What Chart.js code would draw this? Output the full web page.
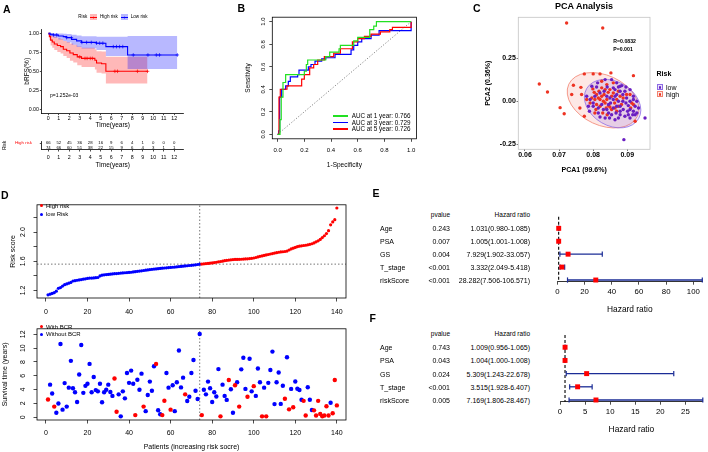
<!DOCTYPE html>
<html>
<head>
<meta charset="utf-8">
<script src="https://cdn.jsdelivr.net/npm/chart.js@4.4.1/dist/chart.umd.min.js"></script>
<style>
html,body{margin:0;padding:0;}
body{width:708px;height:452px;position:relative;overflow:hidden;background:#fff;font-family:"Liberation Sans",Arial,Helvetica,sans-serif;color:#000;}
canvas{position:absolute;}
.t{position:absolute;white-space:nowrap;line-height:1;}
.k{position:absolute;box-sizing:border-box;}
</style>
</head>
<body>
<script>
// ================= DATA =================
// Panel A: Kaplan-Meier curves (years, survival proportion)
const highTime  = [0, 0.1, 0.22, 0.38, 0.57, 0.86, 1.17, 1.43, 1.75, 2.06, 2.38, 2.76, 3.17, 4.44, 4.6, 5.08, 5.49, 9.46];
const highSurv  = [1, 0.956, 0.91, 0.885, 0.86, 0.84, 0.825, 0.79, 0.77, 0.74, 0.72, 0.69, 0.67, 0.645, 0.61, 0.60, 0.50, 0.50];
const highUpper = [1, 1, 0.98, 0.965, 0.95, 0.935, 0.925, 0.90, 0.885, 0.865, 0.85, 0.825, 0.81, 0.79, 0.765, 0.76, 0.69, 0.69];
const highLower = [1, 0.91, 0.84, 0.81, 0.78, 0.755, 0.735, 0.70, 0.675, 0.64, 0.615, 0.58, 0.555, 0.525, 0.48, 0.47, 0.34, 0.34];
const highCensor = [3.0, 3.5, 3.7, 4.0, 4.2, 6.35, 6.6, 8.5, 9.46];
const lowTime  = [0, 0.16, 0.48, 0.95, 1.43, 1.75, 2.22, 2.7, 3.17, 4.6, 5.49, 7.56, 12.3];
const lowSurv  = [1, 0.987, 0.978, 0.965, 0.956, 0.943, 0.92, 0.90, 0.88, 0.87, 0.825, 0.715, 0.715];
const lowUpper = [1, 1, 1, 0.998, 0.995, 0.99, 0.98, 0.97, 0.96, 0.955, 0.955, 0.965, 0.965];
const lowLower = [1, 0.96, 0.94, 0.92, 0.90, 0.88, 0.85, 0.82, 0.80, 0.78, 0.70, 0.53, 0.53];
const lowCensor = [0.16, 0.48, 0.8, 1.75, 2.2, 3.2, 3.65, 4.1, 4.6, 4.9, 5.2, 6.2, 6.5, 6.8, 7.1, 8.1, 9.5, 10.3, 10.6, 12.3];
const kmYTicks = [0, 0.25, 0.5, 0.75, 1];
const riskTimes = [0,1,2,3,4,5,6,7,8,9,10,11,12];
const riskGroups = ['High risk', 'Low risk'];
const atRiskHigh = [66,52,45,36,28,16,9,6,4,1,0,0,0];
const atRiskLow  = [74,66,60,51,38,22,15,9,6,4,3,1,1];

// Panel B: ROC curves (1-specificity, sensitivity)
const roc1Fpr = [0,0.018,0.027,0.04,0.06,0.2,0.215,0.225,0.33,0.36,0.39,0.46,0.47,0.55,0.57,0.6,0.66,0.69,0.72,0.74,1.0];
const roc1Tpr = [0,0.13,0.33,0.46,0.53,0.56,0.62,0.66,0.66,0.69,0.73,0.76,0.79,0.79,0.83,0.86,0.86,0.93,0.96,1.0,1.0];
const roc3Fpr = [0,0.008,0.015,0.03,0.06,0.08,0.095,0.15,0.16,0.22,0.23,0.25,0.28,0.33,0.36,0.43,0.53,0.55,0.57,0.6,0.63,0.7,0.76,0.995,1.0];
const roc3Tpr = [0,0.03,0.33,0.40,0.43,0.47,0.51,0.53,0.57,0.57,0.60,0.62,0.65,0.67,0.68,0.71,0.71,0.75,0.79,0.82,0.85,0.88,0.92,0.92,1.0];
const roc5Fpr = [0,0.01,0.02,0.07,0.18,0.2,0.24,0.27,0.3,0.35,0.42,0.47,0.56,0.6,0.65,0.7,0.77,0.84,0.86,1.0,1.0];
const roc5Tpr = [0,0.33,0.40,0.43,0.49,0.53,0.59,0.62,0.66,0.69,0.72,0.76,0.82,0.85,0.87,0.89,0.91,0.93,0.95,0.95,1.0];
const rocLabels = ['AUC at 1 year: 0.766', 'AUC at 3 year: 0.729', 'AUC at 5 year: 0.726'];
const rocTicks = [0, 0.2, 0.4, 0.6, 0.8, 1.0];

// Panel C: PCA (PCA1, PCA2)
const pcaLow = [[0.0796,0.087],[0.081,0.083],[0.0841,0.083],[0.0859,0.078],[0.0874,0.083],[0.0884,0.091],[0.0893,0.058],[0.0879,0.058],[0.0864,0.029],[0.0887,0.0],[0.0896,-0.010],[0.0903,-0.025],[0.0908,-0.048],[0.0918,-0.058],[0.0928,-0.068],[0.0903,-0.078],[0.0893,-0.087],[0.0879,-0.078],[0.0867,-0.068],[0.0854,-0.078],[0.0845,-0.068],[0.0835,-0.097],[0.082,-0.091],[0.083,-0.048],[0.0815,-0.039],[0.08,-0.029],[0.0791,0.010],[0.0786,-0.029],[0.0781,0.029],[0.0805,0.029],[0.082,0.048],[0.0849,0.019],[0.0869,0.039],[0.0859,0.010],[0.084,0.029],[0.0879,-0.029],[0.0888,-0.048],[0.0918,0.010],[0.0928,0.0],[0.0918,0.029],[0.0908,0.068],[0.0896,0.083],[0.0869,0.107],[0.0854,0.126],[0.0835,0.126],[0.0813,0.107],[0.0952,-0.097],[0.089,-0.223],[0.0923,-0.078],[0.0908,-0.097],[0.0874,-0.097],[0.0859,-0.039],[0.0845,-0.019],[0.0825,-0.019],[0.0874,0.0],[0.0908,0.0],[0.0923,-0.029],[0.0898,0.019],[0.0879,0.087],[0.0789,-0.058],[0.0815,-0.068],[0.0864,-0.107],[0.0848,-0.097],[0.0832,0.058],[0.0916,-0.078],[0.0901,-0.058],[0.0887,0.039],[0.0851,-0.010],[0.0869,-0.029],[0.08,-0.010],[0.0933,-0.039],[0.0879,-0.058],[0.0864,0.068],[0.084,-0.048]];
const pcaHigh = [[0.0722,0.455],[0.0828,0.426],[0.0642,0.10],[0.0666,0.054],[0.0703,-0.037],[0.0715,-0.072],[0.0742,0.093],[0.0737,0.039],[0.0764,0.081],[0.0766,0.039],[0.0761,-0.039],[0.0774,-0.087],[0.0774,0.159],[0.080,0.159],[0.082,0.159],[0.0852,0.165],[0.0918,0.149],[0.0923,-0.116],[0.0799,0.072],[0.0803,0.052],[0.081,0.039],[0.0815,0.019],[0.082,0.010],[0.0825,0.029],[0.083,0.0],[0.0835,-0.010],[0.084,0.010],[0.0845,-0.025],[0.0849,-0.033],[0.0854,-0.048],[0.0864,-0.039],[0.0869,-0.058],[0.0874,-0.029],[0.082,-0.029],[0.081,-0.019],[0.0805,0.010],[0.0796,0.019],[0.0825,0.078],[0.0835,0.068],[0.0844,0.052],[0.0859,0.048],[0.0879,0.029],[0.0888,0.019],[0.0898,0.039],[0.0908,0.039],[0.0913,-0.010],[0.0918,-0.019],[0.091,-0.039],[0.0859,0.107],[0.0825,0.116],[0.0805,-0.068],[0.0828,-0.068],[0.0841,-0.078],[0.0869,0.010],[0.0883,-0.019],[0.0849,0.068],[0.084,0.097],[0.0791,-0.010],[0.0817,0.058],[0.0832,0.039],[0.0863,-0.010],[0.0808,-0.048],[0.0874,0.058],[0.0781,0.010],[0.0854,0.029],[0.0838,-0.039]];
const pcaXTicks = [0.06, 0.07, 0.08, 0.09];
const pcaYTicks = [-0.25, 0, 0.25];
// confidence ellipses: centre, semi-axes (data units), rotation (deg)
const pcaEllipseHigh = {cx:0.0829, cy:0.006, rx:0.0111, ry:0.145, rot:25};
const pcaEllipseLow  = {cx:0.0857, cy:-0.0136, rx:0.0088, ry:0.128, rot:30};

// Panel D: risk score (sorted), survival time and BCR status per patient
const riskScore = [1.14,1.15,1.16,1.17,1.19,1.23,1.24,1.26,1.28,1.29,
 1.30,1.31,1.33,1.335,1.34,1.345,1.35,1.355,1.36,1.365,
 1.37,1.37,1.372,1.375,1.378,1.40,1.41,1.415,1.418,1.42,
 1.423,1.427,1.43,1.432,1.435,1.438,1.44,1.443,1.445,1.448,
 1.45,1.454,1.458,1.462,1.466,1.47,1.474,1.478,1.482,1.486,
 1.49,1.493,1.496,1.499,1.502,1.505,1.508,1.511,1.514,1.516,
 1.518,1.521,1.524,1.527,1.53,1.533,1.536,1.539,1.542,1.545,
 1.548,1.552,1.556,1.56,
 1.562,1.565,1.568,1.571,1.574,1.578,1.582,1.587,1.592,1.597,
 1.602,1.608,1.613,1.617,1.62,1.623,1.625,1.626,1.627,1.628,
 1.63,1.632,1.634,1.637,1.641,1.645,1.652,1.66,1.668,1.674,
 1.68,1.687,1.693,1.70,1.706,1.712,1.718,1.724,1.728,1.731,
 1.734,1.74,1.755,1.77,1.78,1.79,1.80,1.807,1.812,1.816,
 1.82,1.826,1.833,1.84,1.852,1.867,1.88,1.90,1.925,1.95,
 1.98,2.02,2.10,2.14,2.17,2.33];
const nLowRisk = 74;
const riskCutoff = 1.561;
const survTime = [2.56,4.72,3.44,1.54,0.66,1.99,10.6,1.1,4.94,1.54,
 4.28,8.16,4.19,3.62,2.2,6.18,10.45,3.53,4.54,4.85,
 7.72,3.62,5.82,3.93,3.75,4.85,2.16,3.62,3.97,4.72,
 3.66,3.09,5.6,0.79,3.31,0.13,3.75,2.73,6.4,4.98,
 6.75,4.85,0.31,5.43,3.97,6.31,1.54,0.88,3.22,5.16,
 3.84,7.37,7.72,1.01,0.44,0.31,2.38,6.4,4.28,1.1,
 4.63,0.88,5.07,9.66,4.32,5.73,3.31,2.34,2.96,6.4,
 8.29,3.84,2.65,12.04,0.31,3.97,3.31,5.16,4.19,2.2,
 3.62,3.0,6.97,0.13,4.72,3.09,2.51,5.38,4.06,0.66,
 4.63,5.07,1.54,6.93,8.6,4.1,2.96,8.47,3.75,4.5,
 3.09,7.06,5.07,0.13,4.28,0.13,4.98,6.84,9.5,1.9,
 5.07,6.48,1.93,4.56,2.68,8.68,1.14,4.1,1.45,5.18,
 4.12,3.95,2.54,2.37,0.26,4.34,2.54,1.05,1.0,0.26,
 2.37,0.48,0.15,0.26,1.58,0.26,2.1,0.57,5.39,1.71];
const bcrStatus = [1,0,0,1,0,0,0,0,0,0,
 0,0,0,0,0,0,0,0,0,0,
 0,0,0,0,0,0,0,0,0,0,
 0,0,1,1,0,0,0,0,0,0,
 0,0,1,0,0,0,1,0,0,0,
 0,0,1,0,0,1,1,0,0,1,
 0,0,0,0,0,0,1,0,0,0,
 0,0,0,0,1,0,0,0,0,0,
 0,0,0,1,0,0,0,1,0,0,
 1,0,1,0,0,0,1,0,0,1,
 0,0,0,1,0,1,0,0,0,0,
 0,0,0,0,1,0,1,0,1,0,
 0,0,0,1,1,0,0,0,1,1,
 1,1,1,1,1,1,0,1,1,1];
const patientTicks = [0,20,40,60,80,100,120,140];
const scoreTicks = [1.2,1.4,1.6,1.8,2.0,2.2];
const scoreLabelled = [1.2,1.6,2.0];
const survTicks = [0,2,4,6,8,10,12];

// Panels E, F: Cox regression
const coxVars = ['Age','PSA','GS','T_stage','riskScore'];
const uniP    = ['0.243','0.007','0.004','<0.001','<0.001'];
const uniHR   = [1.031,1.005,7.929,3.332,28.282];
const uniLow  = [0.980,1.001,1.902,2.049,7.506];
const uniHigh = [1.085,1.008,33.057,5.418,106.571];
const multiP    = ['0.743','0.043','0.024','<0.001','0.005'];
const multiHR   = [1.009,1.004,5.309,3.515,7.169];
const multiLow  = [0.956,1.000,1.243,1.928,1.806];
const multiHigh = [1.065,1.008,22.678,6.407,28.467];
const uniTicks = [0,20,40,60,80,100];
const multiTicks = [0,5,10,15,20,25];

// ================= HELPERS =================
const FONT = '"Liberation Sans", Arial, Helvetica, sans-serif';
Chart.defaults.font.family = FONT;
Chart.defaults.color = '#000';
Chart.defaults.animation = false;
Chart.defaults.responsive = false;
Chart.defaults.maintainAspectRatio = false;
Chart.defaults.plugins.legend.display = false;
Chart.defaults.plugins.tooltip.enabled = false;
Chart.defaults.events = [];

function mkCanvas(left, top, w, h) {
  const c = document.createElement('canvas');
  c.width = w; c.height = h;
  c.style.left = left + 'px'; c.style.top = top + 'px';
  c.style.width = w + 'px'; c.style.height = h + 'px';
  document.body.appendChild(c);
  return c;
}
function T(text, x, y, o = {}) {
  const d = document.createElement('div');
  d.className = 't';
  d.textContent = text;
  d.style.left = x + 'px'; d.style.top = y + 'px';
  d.style.fontSize = (o.size || 7) + 'px';
  if (o.bold) d.style.fontWeight = 'bold';
  if (o.color) d.style.color = o.color;
  const ax = o.align === 'right' ? '-100%' : o.align === 'center' ? '-50%' : '0';
  d.style.transform = 'translate(' + ax + ',-50%)' + (o.rot ? ' rotate(' + o.rot + 'deg)' : '');
  document.body.appendChild(d);
  return d;
}
function K(x, y, w, h, style) {
  const d = document.createElement('div');
  d.className = 'k';
  d.style.left = x + 'px'; d.style.top = y + 'px';
  d.style.width = w + 'px'; d.style.height = h + 'px';
  Object.assign(d.style, style);
  document.body.appendChild(d);
  return d;
}
const pts = (xs, ys) => xs.map((x, i) => ({x, y: ys[i]}));
const pairs = arr => arr.map(p => ({x: p[0], y: p[1]}));
const survAt = (ts, ss, t) => { let s = ss[0]; ts.forEach((tt, i) => { if (tt <= t) s = ss[i]; }); return s; };

function axis(o) {
  const a = {
    type: 'linear', min: o.min, max: o.max, reverse: !!o.reverse,
    afterFit: s => { if (o.horizontal) s.height = o.size; else s.width = o.size; },
    grid: { display: true, drawOnChartArea: false, drawTicks: true, tickLength: o.tl, color: o.tickColor || '#000', lineWidth: o.tlw || 0.7 },
    border: { display: !!o.border, color: '#000', width: o.bw || 0.8 },
    ticks: { autoSkip: false, padding: o.pad, font: { size: o.fs, weight: o.bold ? 'bold' : 'normal' }, color: '#000' },
    title: { display: false }
  };
  if (o.ticks) a.afterBuildTicks = s => { s.ticks = o.ticks.map(v => ({value: v})); };
  if (o.fmt) a.ticks.callback = o.fmt;
  if (o.rot) { a.ticks.minRotation = o.rot; a.ticks.maxRotation = o.rot; a.ticks.crossAlign = 'center'; }
  else { a.ticks.maxRotation = 0; a.ticks.minRotation = 0; }
  if (o.title) a.title = { display: true, text: o.title, color: '#000', font: { size: o.tfs, weight: o.tbold ? 'bold' : 'normal' },
    padding: o.horizontal ? { top: 0, bottom: o.tpad } : { top: o.tpad, bottom: 0 } };
  return a;
}
const boxPlugin = {
  id: 'box',
  afterDatasetsDraw(chart, args, opts) {
    const a = chart.chartArea, ctx = chart.ctx;
    ctx.save(); ctx.strokeStyle = opts.color || '#000'; ctx.lineWidth = opts.width || 0.8;
    ctx.strokeRect(a.left, a.top, a.right - a.left, a.bottom - a.top); ctx.restore();
  }
};

// ================= PANEL A =================
const kmBand = (xs, ys, fill, bg) => ({data: pts(xs, ys), showLine: true, stepped: true, borderColor: 'transparent', borderWidth: 1, pointRadius: 0, fill: fill, backgroundColor: bg});
new Chart(mkCanvas(0, 0, 190, 130), {
  type: 'scatter',
  data: { datasets: [
    {data: pts(lowTime, lowSurv), showLine: true, stepped: true, borderColor: '#0000FF', borderWidth: 1.1, pointRadius: 0},
    {data: pts(highTime, highSurv), showLine: true, stepped: true, borderColor: '#FF0000', borderWidth: 1.1, pointRadius: 0},
    {data: lowCensor.map(t => ({x: t, y: survAt(lowTime, lowSurv, t)})), pointStyle: 'cross', pointRadius: 1.8, borderColor: '#0000FF', borderWidth: 0.7},
    {data: highCensor.map(t => ({x: t, y: survAt(highTime, highSurv, t)})), pointStyle: 'cross', pointRadius: 1.8, borderColor: '#FF0000', borderWidth: 0.7},
    kmBand(lowTime, lowUpper, '+1', 'rgba(0,0,255,0.28)'),
    kmBand(lowTime, lowLower, false, 'transparent'),
    kmBand(highTime, highUpper, '+1', 'rgba(255,0,0,0.28)'),
    kmBand(highTime, highLower, false, 'transparent')
  ]},
  options: {
    layout: { padding: { left: 0, top: 29.5, right: 6.2, bottom: 0 } },
    scales: {
      x: axis({horizontal: true, min: -0.62, max: 12.92, ticks: riskTimes, size: 16.9, tl: 2, pad: 0.7, fs: 5.3, fmt: v => String(v), title: 'Time(years)', tfs: 6.5, tpad: 1.1, border: true}),
      y: axis({min: -0.05, max: 1.05, ticks: kmYTicks, size: 41.8, tl: 2, pad: 0.8, fs: 5.3, fmt: v => v.toFixed(2), title: 'bRFS(%)', tfs: 6.5, tpad: 23.8, border: true})
    }
  }
});
// risk table
const tablePlugin = {
  id: 'rtab',
  afterDatasetsDraw(chart) {
    const {ctx, scales: {x, y}} = chart;
    ctx.save(); ctx.font = '4.3px ' + FONT; ctx.fillStyle = '#000'; ctx.textAlign = 'center'; ctx.textBaseline = 'middle';
    riskTimes.forEach((t, i) => {
      ctx.fillText(String(atRiskHigh[i]), x.getPixelForValue(t), y.getPixelForValue(0));
      ctx.fillText(String(atRiskLow[i]), x.getPixelForValue(t), y.getPixelForValue(1));
    });
    ctx.restore();
  }
};
new Chart(mkCanvas(0, 130, 190, 40), {
  type: 'scatter',
  data: { datasets: [] },
  options: {
    layout: { padding: { left: 0, top: 11, right: 6.2, bottom: 0 } },
    scales: {
      x: axis({horizontal: true, min: -0.62, max: 12.92, ticks: riskTimes, size: 20.5, tl: 2, pad: 2.5, fs: 5.3, fmt: v => String(v), title: 'Time(years)', tfs: 6.5, tpad: 1.1, border: true}),
      y: { type: 'category', labels: riskGroups, offset: true, afterFit: s => { s.width = 41.8; },
        grid: { display: true, drawOnChartArea: false, drawTicks: true, tickLength: 2, color: '#000', lineWidth: 0.7 },
        border: { display: true, color: '#000', width: 0.8 },
        ticks: { font: { size: 4.4 }, padding: 7.8, color: c => c.index === 0 ? '#FF0000' : '#0000FF' },
        title: { display: true, text: 'Risk', color: '#000', font: { size: 4.6 }, padding: { top: 2.3, bottom: 0 } } }
    }
  },
  plugins: [tablePlugin]
});
T('A', 3, 8.5, {size: 10.5, bold: true});
T('Risk', 78.3, 17.3, {size: 4.6});
K(90, 14.3, 7, 6, {background: 'rgba(255,0,0,0.28)'}); K(90, 17, 7, 0.9, {background: '#FF0000'});
T('+', 93.5, 17.2, {size: 5, color: '#FF0000', align: 'center'});
T('High risk', 100, 17.3, {size: 4.6});
K(120.7, 14.3, 7, 6, {background: 'rgba(0,0,255,0.28)'}); K(120.7, 17, 7, 0.9, {background: '#0000FF'});
T('+', 124.2, 17.2, {size: 5, color: '#0000FF', align: 'center'});
T('Low risk', 130.7, 17.3, {size: 4.6});
T('p=1.252e-03', 50, 95, {size: 5});

// ================= PANEL B =================
new Chart(mkCanvas(190, 0, 230, 175), {
  type: 'scatter',
  data: { datasets: [
    {data: pts(roc1Fpr, roc1Tpr), showLine: true, stepped: true, borderColor: '#22E022', borderWidth: 1.2, pointRadius: 0},
    {data: pts(roc5Fpr, roc5Tpr), showLine: true, stepped: true, borderColor: '#FF0000', borderWidth: 1.2, pointRadius: 0},
    {data: pts(roc3Fpr, roc3Tpr), showLine: true, stepped: true, borderColor: '#0000FF', borderWidth: 1.2, pointRadius: 0},
    {data: [{x: 0, y: 0}, {x: 1, y: 1}], showLine: true, borderColor: '#666', borderDash: [1.2, 1.8], borderWidth: 0.8, pointRadius: 0}
  ]},
  options: {
    layout: { padding: { left: 0, top: 17.2, right: 2.9, bottom: 0 } },
    scales: {
      x: axis({horizontal: true, min: -0.04, max: 1.04, ticks: rocTicks, size: 36.2, tl: 3, pad: 4.6, fs: 6, fmt: v => v.toFixed(1), title: '1-Specificity', tfs: 6.5, tpad: 6.1}),
      y: axis({min: -0.04, max: 1.04, ticks: rocTicks, size: 82.3, tl: 3, pad: 1.8, fs: 6, rot: 90, fmt: v => v.toFixed(1), title: 'Sensitivity', tfs: 6.5, tpad: 54.1})
    },
    plugins: { box: { color: '#000', width: 0.8 } }
  },
  plugins: [boxPlugin]
});
T('B', 237.5, 7.5, {size: 10.5, bold: true});
const rocColors = ['#22E022', '#0000FF', '#FF0000'];
[116, 122.5, 129].forEach((y, i) => {
  K(333, y - 0.6, 15, 1.2, {background: rocColors[i]});
  T(rocLabels[i], 351.7, y, {size: 6.3});
});

// ================= PANEL C =================
const ellipsePlugin = {
  id: 'ell',
  beforeDatasetsDraw(chart) {
    const {ctx, scales: {x, y}} = chart;
    [[pcaEllipseHigh, 'rgba(245,110,95,0.16)', '#F2826F'], [pcaEllipseLow, 'rgba(130,90,225,0.18)', '#8E6CE6']].forEach(([e, fill, stroke]) => {
      const cx = x.getPixelForValue(e.cx), cy = y.getPixelForValue(e.cy);
      const rx = Math.abs(x.getPixelForValue(e.cx + e.rx) - cx), ry = Math.abs(y.getPixelForValue(e.cy + e.ry) - cy);
      ctx.save(); ctx.beginPath(); ctx.ellipse(cx, cy, rx, ry, e.rot * Math.PI / 180, 0, 2 * Math.PI);
      ctx.fillStyle = fill; ctx.fill(); ctx.strokeStyle = stroke; ctx.lineWidth = 0.8; ctx.stroke(); ctx.restore();
    });
  }
};
new Chart(mkCanvas(470, 0, 238, 180), {
  type: 'scatter',
  data: { datasets: [
    {data: pairs(pcaLow), pointRadius: 1.7, backgroundColor: '#6A1FC2', borderWidth: 0},
    {data: pairs(pcaHigh), pointRadius: 1.7, backgroundColor: '#EE3322', borderWidth: 0}
  ]},
  options: {
    layout: { padding: { left: 0, top: 17.3, right: 58, bottom: 0 } },
    scales: {
      x: axis({horizontal: true, min: 0.05804, max: 0.09666, ticks: pcaXTicks, size: 30.7, tl: 1.7, pad: 0, fs: 7, bold: true, fmt: v => v.toFixed(2), title: 'PCA1 (99.6%)', tfs: 7, tbold: true, tpad: 5.8, tickColor: '#333'}),
      y: axis({min: -0.279, max: 0.488, ticks: pcaYTicks, size: 48.3, tl: 1.7, pad: 0.8, fs: 7, bold: true, fmt: v => v.toFixed(2), title: 'PCA2 (0.36%)', tfs: 7, tbold: true, tpad: 13.8, tickColor: '#333'})
    },
    plugins: { box: { color: '#c4c4c4', width: 0.8 } }
  },
  plugins: [ellipsePlugin, boxPlugin]
});
T('C', 473, 7.5, {size: 10.5, bold: true});
T('PCA Analysis', 584, 5.5, {size: 9, bold: true, align: 'center'});
T('R=0.0832', 613.3, 41.7, {size: 5.2, bold: true});
T('P=0.001', 613.3, 50, {size: 5.2, bold: true});
T('Risk', 656.5, 72.7, {size: 7, bold: true});
K(657, 84.3, 6, 6, {border: '0.8px solid #8E6CE6', background: 'rgba(130,90,225,0.18)'});
K(658.6, 85.9, 2.8, 2.8, {background: '#6A1FC2', borderRadius: '50%'});
T('low', 666, 87.3, {size: 7});
K(657, 91.3, 6, 6, {border: '0.8px solid #F2826F', background: 'rgba(245,110,95,0.16)'});
K(658.6, 92.9, 2.8, 2.8, {background: '#EE3322', borderRadius: '50%'});
T('high', 666, 94.3, {size: 7});

// ================= PANEL D =================
const idx = riskScore.map((_, i) => i + 1);
const d1x = {min: -4.3, max: 144.4}, d1y = {min: 1.097, max: 2.374};
new Chart(mkCanvas(0, 195, 350, 125), {
  type: 'scatter',
  data: { datasets: [
    {data: idx.filter(i => i > nLowRisk).map(i => ({x: i, y: riskScore[i - 1]})), pointRadius: 1.6, backgroundColor: '#FF0000', borderWidth: 0},
    {data: idx.filter(i => i <= nLowRisk).map(i => ({x: i, y: riskScore[i - 1]})), pointRadius: 1.6, backgroundColor: '#0000FF', borderWidth: 0},
    {data: [{x: nLowRisk, y: d1y.min}, {x: nLowRisk, y: d1y.max}], showLine: true, borderColor: '#666', borderDash: [1.5, 2], borderWidth: 0.9, pointRadius: 0},
    {data: [{x: d1x.min, y: riskCutoff}, {x: d1x.max, y: riskCutoff}], showLine: true, borderColor: '#666', borderDash: [1.5, 2], borderWidth: 0.9, pointRadius: 0}
  ]},
  options: {
    layout: { padding: { left: 0, top: 4, right: 2, bottom: 0 } },
    scales: {
      x: axis({horizontal: true, min: d1x.min, max: d1x.max, ticks: patientTicks, size: 22, tl: 3.5, pad: 6.3, fs: 7, fmt: v => String(v)}),
      y: axis({min: d1y.min, max: d1y.max, ticks: scoreTicks, size: 37, tl: 3.5, pad: 5.6, fs: 7, rot: 90, fmt: v => scoreLabelled.some(s => Math.abs(s - v) < 1e-6) ? v.toFixed(1) : '', title: 'Risk score', tfs: 7, tpad: 8.8})
    },
    plugins: { box: { color: '#000', width: 0.8 } }
  },
  plugins: [boxPlugin]
});
const d2x = {min: -4.3, max: 144.4}, d2y = {min: -0.4, max: 12.8};
new Chart(mkCanvas(0, 318, 350, 134), {
  type: 'scatter',
  data: { datasets: [
    {data: idx.filter(i => bcrStatus[i - 1] === 1).map(i => ({x: i, y: survTime[i - 1]})), pointRadius: 2.2, backgroundColor: '#FF0000', borderWidth: 0},
    {data: idx.filter(i => bcrStatus[i - 1] === 0).map(i => ({x: i, y: survTime[i - 1]})), pointRadius: 2.2, backgroundColor: '#0000FF', borderWidth: 0},
    {data: [{x: nLowRisk, y: d2y.min}, {x: nLowRisk, y: d2y.max}], showLine: true, borderColor: '#666', borderDash: [1.5, 2], borderWidth: 0.9, pointRadius: 0}
  ]},
  options: {
    layout: { padding: { left: 0, top: 2, right: 2, bottom: 0 } },
    scales: {
      x: axis({horizontal: true, min: d2x.min, max: d2x.max, ticks: patientTicks, size: 32, tl: 3.5, pad: 5.3, fs: 7, fmt: v => String(v), title: 'Patients (increasing risk socre)', tfs: 7, tpad: 0.8}),
      y: axis({min: d2y.min, max: d2y.max, ticks: survTicks, size: 37, tl: 3.5, pad: 6.6, fs: 7, rot: 90, fmt: v => String(v), title: 'Survival time (years)', tfs: 7, tpad: 0.8})
    },
    plugins: { box: { color: '#000', width: 0.8 } }
  },
  plugins: [boxPlugin]
});
T('D', 1, 195, {size: 10.5, bold: true});
K(40, 204.2, 3, 3, {background: '#FF0000', borderRadius: '50%'}); T('High risk', 46, 205.7, {size: 6});
K(40, 212.5, 3, 3, {background: '#0000FF', borderRadius: '50%'}); T('low Risk', 46, 214, {size: 6});
K(40, 325.4, 3, 3, {background: '#FF0000', borderRadius: '50%'}); T('With BCR', 46, 326.9, {size: 6});
K(40, 332.8, 3, 3, {background: '#0000FF', borderRadius: '50%'}); T('Without BCR', 46, 334.3, {size: 6});

// ================= PANELS E, F =================
function forest(left, top, w, h, hr, lo, hi, xmax, xticks, pad, xh, tickPad, titlePad, ymin, ymax, pvals) {
  const navy = '#1B2C96';
  const ds = [{data: hr.map((v, i) => ({x: v, y: i + 1})), pointStyle: 'rect', pointRadius: 3.5, backgroundColor: '#FF0000', borderColor: '#FF0000', borderWidth: 0, clip: false}];
  hr.forEach((v, i) => ds.push({data: [{x: lo[i], y: i + 1}, {x: hi[i], y: i + 1}], showLine: true, borderColor: navy, borderWidth: 1.3,
    pointStyle: 'line', pointRotation: 90, pointRadius: 2.6, pointBorderColor: navy, pointBorderWidth: 1.2, clip: false}));
  ds.push({data: [{x: 1, y: ymin}, {x: 1, y: ymax}], showLine: true, borderColor: '#000', borderDash: [3, 2], borderWidth: 1.1, pointRadius: 0, clip: false});
  const ch = new Chart(mkCanvas(left, top, w, h), {
    type: 'scatter',
    data: { datasets: ds },
    options: {
      layout: { padding: pad },
      scales: {
        x: axis({horizontal: true, min: 0, max: xmax, ticks: xticks, size: xh, tl: 3, pad: tickPad, fs: 7.8, fmt: v => String(v), title: 'Hazard ratio', tfs: 8.4, tpad: titlePad, border: true}),
        y: { type: 'linear', display: false, min: ymin, max: ymax, reverse: true }
      }
    }
  });
  const rowY = i => top + ch.scales.y.getPixelForValue(i + 1);
  const headY = rowY(0) - (rowY(1) - rowY(0));
  T('pvalue', 450, headY, {size: 6.5, align: 'right'});
  T('Hazard ratio', 530, headY, {size: 6.5, align: 'right'});
  coxVars.forEach((name, i) => {
    T(name, 380, rowY(i), {size: 7});
    T(pvals[i], 450, rowY(i), {size: 7, align: 'right'});
    T(hr[i].toFixed(3) + '(' + lo[i].toFixed(3) + '-' + hi[i].toFixed(3) + ')', 530, rowY(i), {size: 7, align: 'right'});
  });
}
forest(540, 205, 168, 112, uniHR, uniLow, uniHigh, 106.571, uniTicks, {left: 17.3, top: 11.7, right: 5.7, bottom: 0}, 35.3, 2.3, 2.7, 0.1, 5.13, uniP);
forest(540, 325, 168, 127, multiHR, multiLow, multiHigh, 28.467, multiTicks, {left: 20, top: 10, right: 0, bottom: 0}, 50.3, 2.3, 16.9, 0.07, 5.13, multiP);
T('E', 372.5, 193.3, {size: 10.5, bold: true});
T('F', 369.5, 318.3, {size: 10.5, bold: true});
</script>
</body>
</html>
